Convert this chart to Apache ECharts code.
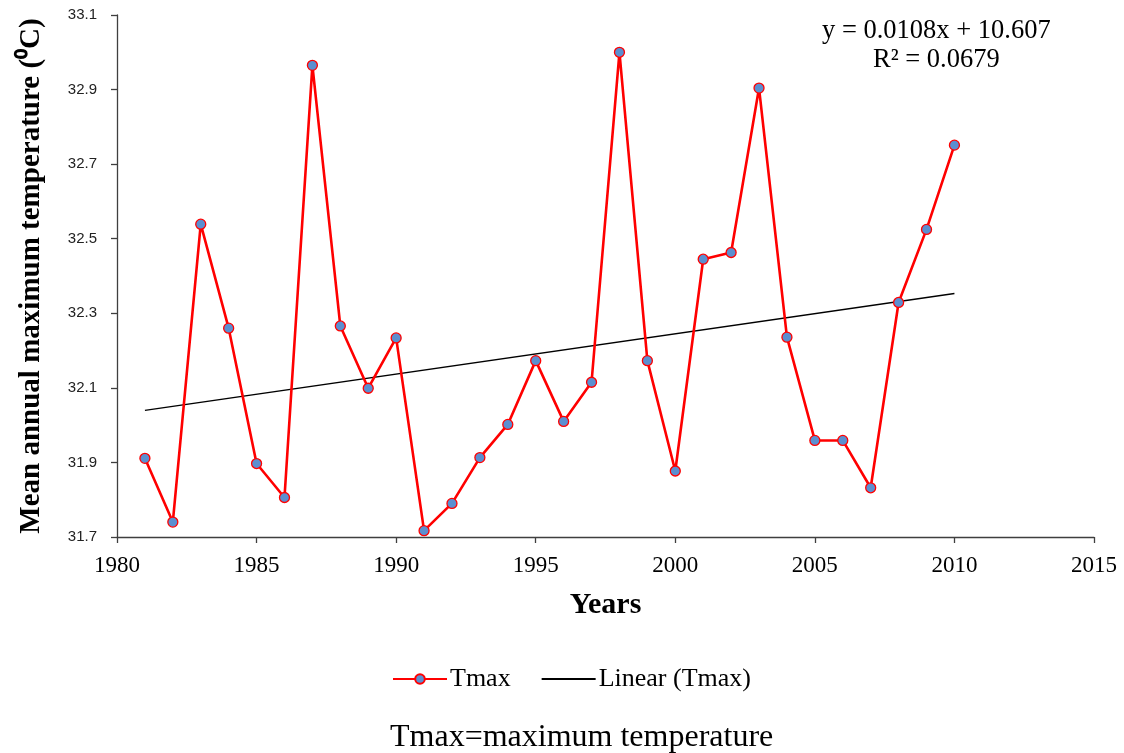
<!DOCTYPE html>
<html>
<head>
<meta charset="utf-8">
<title>Mean annual maximum temperature</title>
<script src="https://cdn.jsdelivr.net/npm/echarts@6/dist/echarts.min.js"></script>
<style>
  html, body { margin: 0; padding: 0; background: #fff; }
  #chart { width: 1124px; height: 753px; }
</style>
</head>
<body>
<div id="chart"></div>
<script>
// Annual mean maximum temperature (°C), 1981–2010
const years = [1981, 1982, 1983, 1984, 1985, 1986, 1987, 1988, 1989, 1990,
               1991, 1992, 1993, 1994, 1995, 1996, 1997, 1998, 1999, 2000,
               2001, 2002, 2003, 2004, 2005, 2006, 2007, 2008, 2009, 2010];
const tmax = [31.911, 31.740, 32.539, 32.260, 31.897, 31.806, 32.965, 32.266, 32.099, 32.234,
              31.717, 31.790, 31.913, 32.002, 32.173, 32.010, 32.115, 33.000, 32.173, 31.877,
              32.445, 32.463, 32.904, 32.236, 31.959, 31.959, 31.832, 32.329, 32.525, 32.751];
const xTicks = [1980, 1985, 1990, 1995, 2000, 2005, 2010, 2015];
const yTicks = [31.7, 31.9, 32.1, 32.3, 32.5, 32.7, 32.9, 33.1];
const equationLines = ['y = 0.0108x + 10.607', 'R² = 0.0679'];

// Least-squares trend line through the yearly values
const n = years.length;
const mx = years.reduce((a, b) => a + b, 0) / n;
const my = tmax.reduce((a, b) => a + b, 0) / n;
let sxy = 0, sxx = 0;
for (let i = 0; i < n; i++) {
  sxy += (years[i] - mx) * (tmax[i] - my);
  sxx += (years[i] - mx) * (years[i] - mx);
}
const slope = sxy / sxx;
const intercept = my - slope * mx;
const trend = [years[0], years[n - 1]].map(x => [x, intercept + slope * x]);

const serif = '"Liberation Serif", "Times New Roman", serif';
const sans = '"Liberation Sans", Arial, sans-serif';
const axisColor = '#3f3f3f';

const chart = echarts.init(document.getElementById('chart'), null, { renderer: 'canvas' });
chart.setOption({
  animation: false,
  backgroundColor: '#ffffff',
  grid: { left: 117, right: 30, top: 15, bottom: 216, containLabel: false, outerBoundsMode: 'none' },
  xAxis: {
    type: 'value',
    min: xTicks[0],
    max: xTicks[xTicks.length - 1],
    interval: 5,
    axisLine: { lineStyle: { color: axisColor, width: 1.3 } },
    axisTick: { show: true, length: 6, inside: false, lineStyle: { color: axisColor, width: 1.3 } },
    splitLine: { show: false },
    axisLabel: { color: '#000', fontFamily: serif, fontSize: 23, margin: 17, formatter: v => String(v) },
    name: 'Years',
    nameLocation: 'middle',
    nameGap: 53,
    nameTextStyle: { color: '#000', fontFamily: serif, fontSize: 30, fontWeight: 'bold' }
  },
  yAxis: {
    type: 'value',
    min: yTicks[0],
    max: yTicks[yTicks.length - 1],
    interval: 0.2,
    axisLine: { show: true, lineStyle: { color: axisColor, width: 1.3 } },
    axisTick: { show: true, length: 6, inside: false, lineStyle: { color: axisColor, width: 1.3 } },
    splitLine: { show: false },
    axisLabel: { color: '#222', fontFamily: sans, fontSize: 15, margin: 20, formatter: v => v.toFixed(1) },
    name: 'Mean annual maximum temperature (⁰C)',
    nameLocation: 'middle',
    nameGap: 71,
    nameTextStyle: { color: '#000', fontFamily: serif, fontSize: 29, fontWeight: 'bold' }
  },
  legend: {
    top: 661,
    left: 387,
    itemGap: 30,
    itemWidth: 54,
    itemHeight: 12,
    textStyle: { color: '#000', fontFamily: serif, fontSize: 26, padding: [0, 0, 0, -2] },
    data: [
      { name: 'Tmax' },
      { name: 'Linear (Tmax)', itemStyle: { opacity: 0 } }
    ]
  },
  series: [
    {
      name: 'Tmax',
      type: 'line',
      data: years.map((y, i) => [y, tmax[i]]),
      symbol: 'circle',
      symbolSize: 10,
      lineStyle: { color: '#ff0000', width: 2.6 },
      itemStyle: { color: '#5b8fd0', borderColor: '#ff0000', borderWidth: 1.3 },
      z: 3
    },
    {
      name: 'Linear (Tmax)',
      type: 'line',
      data: trend,
      showSymbol: false,
      symbol: 'none',
      lineStyle: { color: '#000', width: 1.4 },
      itemStyle: { color: '#000' },
      z: 2
    }
  ],
  graphic: [
    {
      type: 'text',
      left: 822, top: 18,
      style: { text: equationLines[0], fill: '#000', font: '26.5px ' + serif }
    },
    {
      type: 'text',
      left: 873, top: 47,
      style: { text: equationLines[1], fill: '#000', font: '26.5px ' + serif }
    },
    {
      type: 'text',
      left: 390, top: 722,
      style: { text: 'Tmax=maximum temperature', fill: '#000', font: '32px ' + serif }
    }
  ]
});
</script>
</body>
</html>
